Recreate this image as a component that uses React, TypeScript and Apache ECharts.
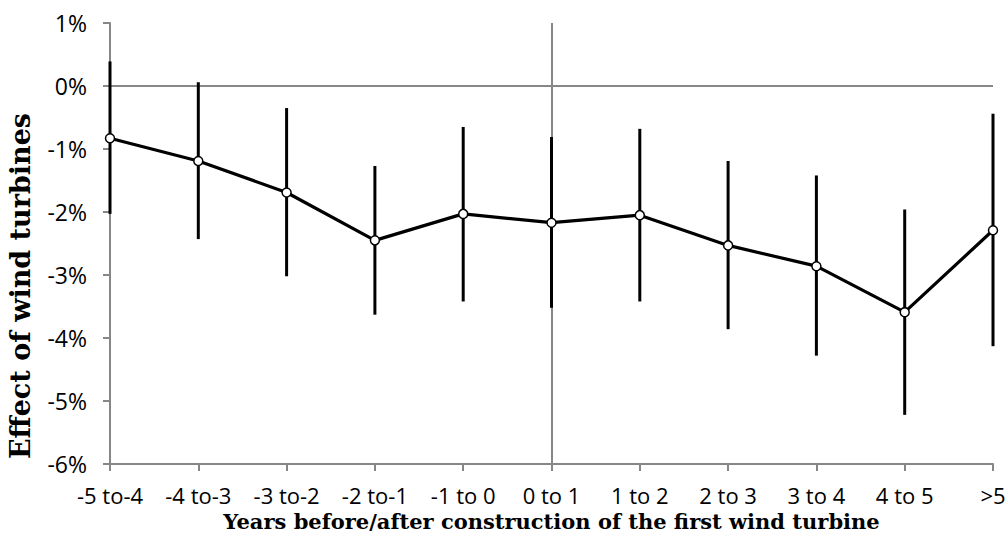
import React, { useEffect, useRef } from "react";
import * as echarts from "echarts";

const categories = ["-5 to-4", "-4 to-3", "-3 to-2", "-2 to-1", "-1 to 0", "0 to 1", "1 to 2", "2 to 3", "3 to 4", "4 to 5", ">5"];
const effect = [-0.83, -1.19, -1.69, -2.45, -2.03, -2.17, -2.05, -2.53, -2.86, -3.59, -2.29];
const upper = [0.39, 0.06, -0.35, -1.27, -0.65, -0.81, -0.68, -1.19, -1.42, -1.96, -0.44];
const lower = [-2.03, -2.43, -3.02, -3.63, -3.42, -3.52, -3.42, -3.86, -4.28, -5.22, -4.13];
const yMin = -6;
const yMax = 1;
const yInterval = 1;
const xTitle = "Years before/after construction of the first wind turbine";
const yTitle = "Effect of wind turbines";

export default function App() {
  const ref = useRef<HTMLDivElement>(null);
  useEffect(() => {
    if (!ref.current) return;
    const chart = echarts.init(ref.current, null, { renderer: "svg" });
    const axisColor = "#878787";
    chart.setOption({
      animation: false,
      backgroundColor: "#fff",
      grid: { left: 110, right: 12, top: 23, bottom: 73, containLabel: false, outerBoundsMode: "none" },
      graphic: [
        {
          type: "text",
          x: 20,
          y: 286,
          rotation: Math.PI / 2,
          style: {
            text: yTitle,
            fontFamily: "DejaVu Serif",
            fontWeight: "bold",
            fontSize: 27,
            fill: "#000",
            align: "center",
            verticalAlign: "middle",
          },
        },
      ],
      xAxis: {
        type: "category",
        data: categories,
        boundaryGap: false,
        axisLine: { onZero: false, lineStyle: { color: axisColor, width: 2 } },
        axisTick: { show: true, alignWithLabel: true, length: 7, lineStyle: { color: axisColor, width: 2 } },
        axisLabel: { fontFamily: "Open Sans", fontSize: 22, color: "#000", margin: 20, interval: 0, hideOverlap: false },
        splitLine: { show: false },
        name: xTitle,
        nameLocation: "middle",
        nameGap: 46,
        nameTextStyle: { fontFamily: "DejaVu Serif", fontWeight: "bold", fontSize: 21, color: "#000" },
      },
      yAxis: {
        type: "value",
        min: yMin,
        max: yMax,
        interval: yInterval,
        axisLine: { show: true, lineStyle: { color: axisColor, width: 2 } },
        axisTick: { show: true, length: 7, lineStyle: { color: axisColor, width: 2 } },
        axisLabel: { fontFamily: "Open Sans", fontSize: 23, color: "#000", margin: 23, formatter: (v: number) => `${v}%` },
        splitLine: { show: false },
      },
      series: [
        {
          type: "custom",
          z: 2,
          data: categories.map((_, i) => [i, upper[i], lower[i]]),
          renderItem: (params: any, api: any) => {
            const top = api.coord([api.value(0), api.value(1)]);
            const bot = api.coord([api.value(0), api.value(2)]);
            return {
              type: "line",
              shape: { x1: top[0], y1: top[1], x2: bot[0], y2: bot[1] },
              style: { stroke: "#000", lineWidth: 3 },
            };
          },
          encode: { x: 0, y: [1, 2] },
        },
        {
          type: "line",
          z: 3,
          data: effect,
          symbol: "circle",
          symbolSize: 9,
          showAllSymbol: true,
          itemStyle: { color: "#fff", borderColor: "#000", borderWidth: 1.5 },
          lineStyle: { color: "#000", width: 3.2 },
          markLine: {
            silent: true,
            symbol: "none",
            label: { show: false },
            lineStyle: { color: axisColor, width: 2, type: "solid" },
            data: [{ yAxis: 0 }, { xAxis: "0 to 1" }],
            z: 1,
          },
        },
      ],
    });
    return () => chart.dispose();
  }, []);
  return <div ref={ref} style={{ position: "absolute", left: 0, top: 0, width: 1005, height: 537 }} />;
}
